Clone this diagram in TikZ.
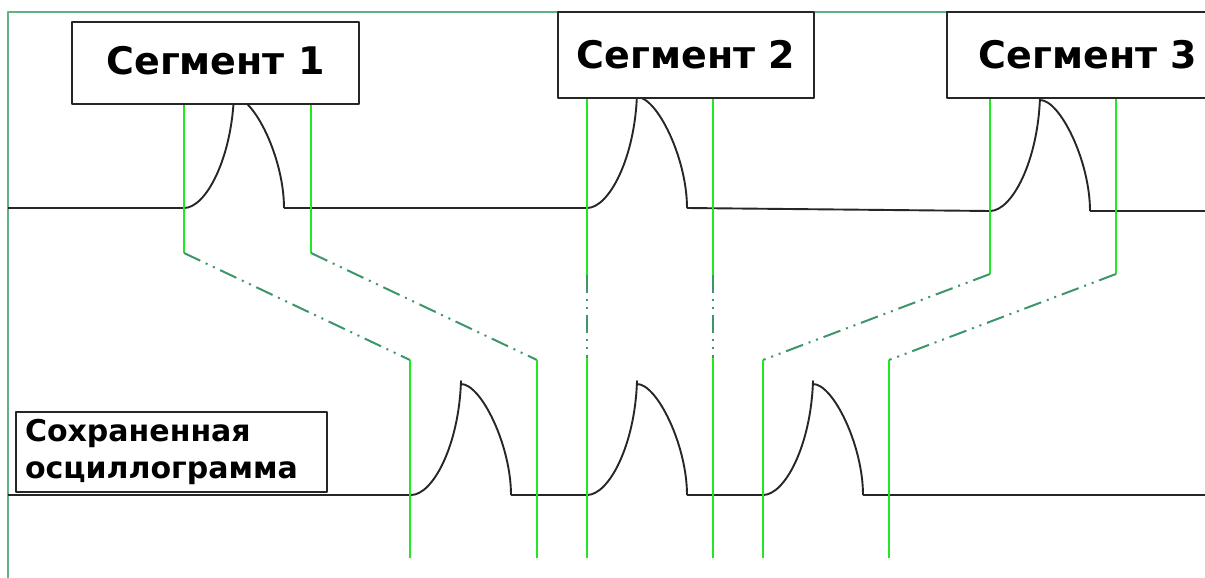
\documentclass[tikz,border=0pt]{standalone}
\usepackage{fontspec}
\setmainfont{DejaVu Sans}
\definecolor{framegreen}{RGB}{96,178,128}
\definecolor{gategreen}{RGB}{34,232,34}
\definecolor{linkgreen}{RGB}{60,150,105}

\begin{document}
\begin{tikzpicture}[x=1pt, y=-1pt, line join=round,
  trace/.style={draw=black!85, line width=1.9pt},
  gate/.style={draw=gategreen, line width=2pt},
  gatelink/.style={draw=linkgreen, line width=2pt,
    dash pattern=on 18pt off 6pt on 2pt off 6pt on 2pt off 6pt},
  segbox/.style={draw=black!85, line width=1.8pt, fill=white, inner sep=0pt,
    font=\bfseries\fontsize{38}{40}\selectfont},
  notebox/.style={draw=black!85, line width=1.8pt, fill=white, inner xsep=9pt,
    inner ysep=0pt, align=left, text width=293pt, minimum height=80pt,
    font=\bfseries\fontsize{30}{37}\selectfont}]
  \useasboundingbox (0,0) rectangle (1205,578);
  % Frame
  \draw[framegreen, line width=1.8pt] (8,578) -- (8,12) -- (1205,12);
  % Input signal and stored trace
  \draw[trace] (8,208) -- (184,208) (284,208) -- (587,208)
    (687,208) -- (990,211) (1090,211) -- (1205,211);
  \draw[trace] (8,495) -- (411,495) (511,495) -- (587,495)
    (687,495) -- (763,495) (863,495) -- (1205,495);
  \foreach \px/\py in {184/208, 587/208, 990/211, 411/495, 587/495, 763/495}
    \draw[trace] (\px,\py) .. controls +(22,0) and +(-2,64) .. ++(50,-114)
      -- ++(0,3) .. controls +(20,0) and +(0,-50) .. ++(50,111);
  % Gate lines from each segment to the stored trace
  \foreach \n/\xa/\ya/\yb/\xc/\yc in {a/184/104/253/410/360, b/311/104/253/537/360,
      c/587/98/275/587/358, d/713/98/275/713/358,
      e/990/98/274/763/360, f/1116/98/274/889/360} {
    \coordinate (\n top) at (\xa,\ya);
    \coordinate (\n bend) at (\xa,\yb);
    \coordinate (\n land) at (\xc,\yc);
    \coordinate (\n foot) at (\xc,558);
    \draw[gate] (\n top) -- (\n bend);
    \draw[gatelink] (\n bend) -- (\n land);
    \draw[gate] (\n land) -- (\n foot);
  }
  % Labels
  \node[segbox, minimum width=287pt, minimum height=82pt] (seg1) at (215.5,63)
    {\raisebox{5pt}{Сегмент 1}\hspace{14pt}};
  \node[segbox, minimum width=256pt, minimum height=86pt] (seg2) at (686,55) {Сегмент 2};
  \node[segbox, minimum width=282pt, minimum height=86pt] (seg3) at (1088,55) {Сегмент 3};
  \node[notebox] (saved) at (171.5,452) {Сохраненная\\осциллограмма};
\end{tikzpicture}
\end{document}
